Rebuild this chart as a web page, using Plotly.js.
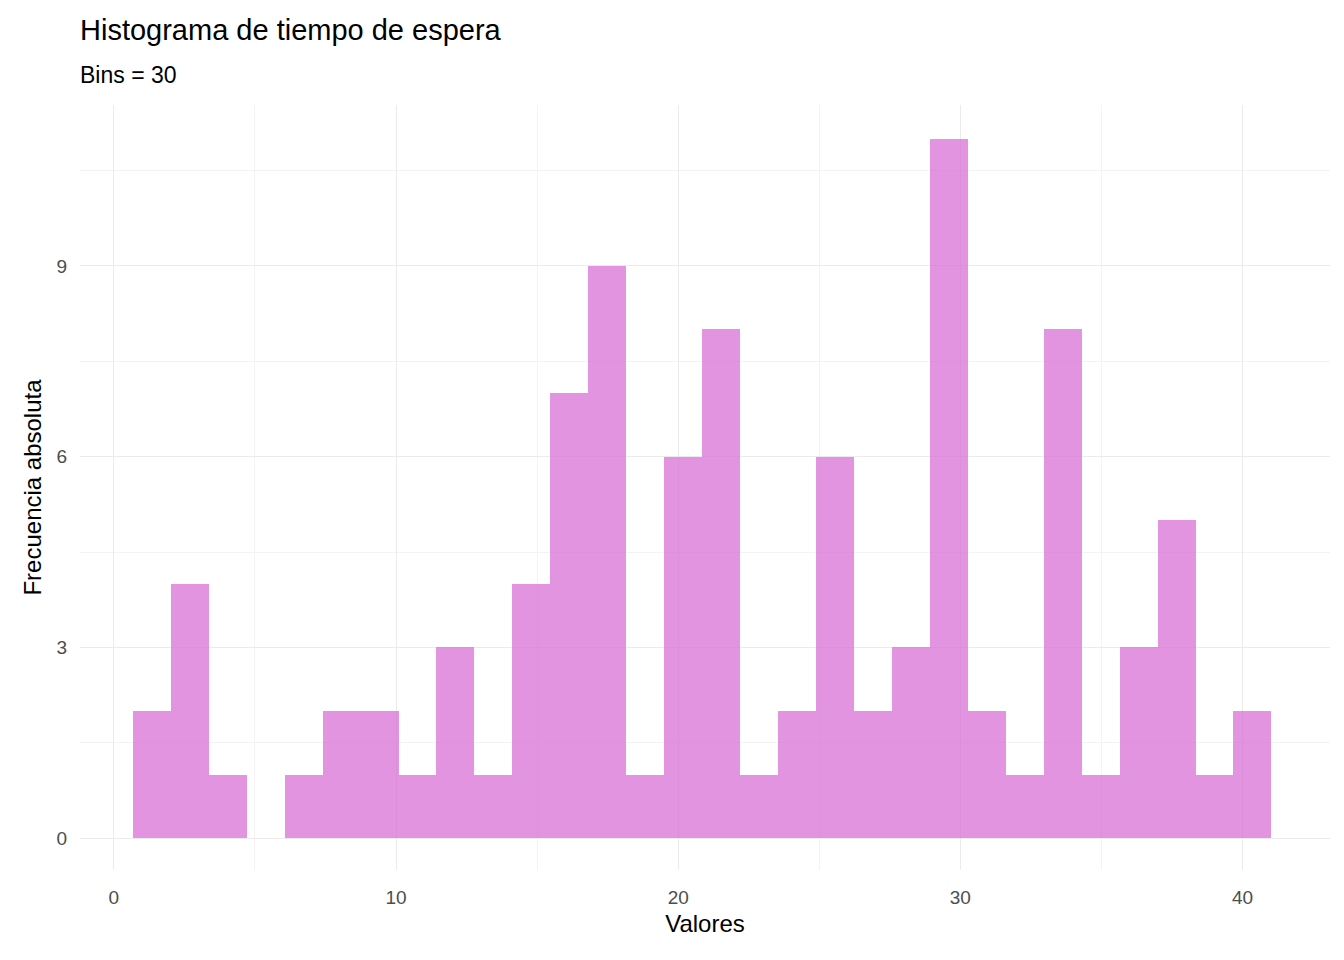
<!DOCTYPE html>
<html>
<head>
<meta charset="utf-8">
<script src="https://cdn.plot.ly/plotly-3.0.1.min.js"></script>
<style>body{margin:0;background:#fff}#chart{width:1344px;height:960px}</style>
</head>
<body>
<div id="chart"></div>
<script>
// histogram counts, 30 bins
const counts = [2, 4, 1, 0, 1, 2, 2, 1, 3, 1, 4, 7, 9, 1, 6, 8, 1, 2, 6, 2, 3, 11, 2, 1, 8, 1, 3, 5, 1, 2];
const binStart = 0.674;
const binWidth = 1.345;
const xTicks = [0, 10, 20, 30, 40];
const yTicks = [0, 3, 6, 9];

const centers = counts.map((_, i) => binStart + binWidth * (i + 0.5));
const font = 'Liberation Sans, Arial, sans-serif';

Plotly.newPlot('chart', [{
  type: 'bar',
  x: centers,
  y: counts,
  width: binWidth,
  marker: { color: 'rgba(218,112,214,0.75)', line: { width: 0 } },
  hoverinfo: 'x+y'
}], {
  width: 1344,
  height: 960,
  margin: { l: 80, r: 14, t: 105, b: 90 },
  paper_bgcolor: '#fff',
  plot_bgcolor: '#fff',
  bargap: 0,
  showlegend: false,
  font: { family: font },
  xaxis: {
    range: [-1.2, 43.1],
    tickvals: xTicks,
    ticks: '',
    ticklabelstandoff: 14,
    tickfont: { size: 19, color: '#4d4d4d' },
    gridcolor: '#ebebeb',
    gridwidth: 1.3,
    minor: { tickvals: [5, 15, 25, 35], gridcolor: '#f3f3f3', gridwidth: 0.8 },
    zeroline: false,
    showline: false,
    title: { text: 'Valores', font: { size: 24, color: '#000' }, standoff: 8 }
  },
  yaxis: {
    range: [-0.5, 11.53],
    tickvals: yTicks,
    ticks: '',
    ticklabelstandoff: 12,
    tickfont: { size: 19, color: '#4d4d4d' },
    gridcolor: '#ebebeb',
    gridwidth: 1.3,
    minor: { tickvals: [1.5, 4.5, 7.5, 10.5], gridcolor: '#f3f3f3', gridwidth: 0.8 },
    zeroline: false,
    showline: false,
    title: { text: 'Frecuencia absoluta', font: { size: 24, color: '#000' }, standoff: 8 }
  },
  annotations: [
    { text: 'Histograma de tiempo de espera', xref: 'paper', yref: 'paper', x: -0.002, y: 1,
      xanchor: 'left', yanchor: 'middle', yshift: 75, showarrow: false, font: { size: 29, color: '#000' } },
    { text: 'Bins = 30', xref: 'paper', yref: 'paper', x: -0.002, y: 1,
      xanchor: 'left', yanchor: 'middle', yshift: 30, showarrow: false, font: { size: 23, color: '#000' } }
  ]
}, { displayModeBar: false });
</script>
</body>
</html>
